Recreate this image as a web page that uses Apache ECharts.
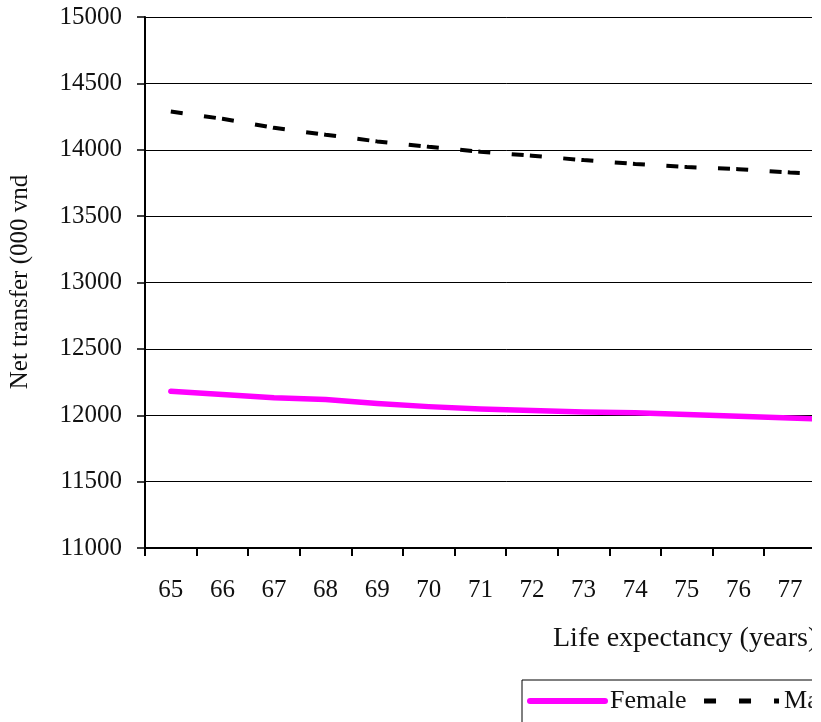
<!DOCTYPE html>
<html>
<head>
<meta charset="utf-8">
<script src="https://cdn.jsdelivr.net/npm/echarts@6/dist/echarts.min.js"></script>
<style>
  html, body { margin: 0; padding: 0; background: #fff; }
  #frame { position: absolute; left: 0; top: 0; width: 812px; height: 722px; overflow: hidden; background: #fff; }
  #chart { position: absolute; left: 0; top: 0; width: 900px; height: 722px; }
</style>
</head>
<body>
<div id="frame"><div id="chart"></div></div>
<script>
// Life expectancy in years (category axis)
const ages = ['65', '66', '67', '68', '69', '70', '71', '72', '73', '74', '75', '76', '77', '78'];
// Net transfer, thousand VND
const female = [12181, 12156, 12131, 12118, 12088, 12065, 12048, 12036, 12024, 12018, 12005, 11992, 11979, 11966];
const male   = [14288, 14233, 14165, 14113, 14063, 14022, 13985, 13955, 13922, 13893, 13870, 13854, 13829, 13812];

const FONT = "'Liberation Serif', 'Times New Roman', serif";
const catWidth = 51.6;

const chart = echarts.init(document.getElementById('chart'), null, { renderer: 'canvas' });

chart.setOption({
  animation: false,
  backgroundColor: '#ffffff',
  grid: { left: 145, top: 17, width: catWidth * ages.length, height: 531, containLabel: false },
  xAxis: {
    type: 'category',
    data: ages,
    boundaryGap: true,
    axisLine: { lineStyle: { color: '#000', width: 2 } },
    axisTick: { show: true, length: 8, inside: false, lineStyle: { color: '#000', width: 2 } },
    axisLabel: { color: '#111', fontFamily: FONT, fontSize: 25, margin: 30, interval: 0 },
    splitLine: { show: false }
  },
  yAxis: {
    type: 'value',
    min: 11000,
    max: 15000,
    interval: 500,
    axisLine: { show: true, lineStyle: { color: '#000', width: 2 } },
    axisTick: { show: true, length: 8, lineStyle: { color: '#000', width: 1.5 } },
    axisLabel: { color: '#111', fontFamily: FONT, fontSize: 25, margin: 23, formatter: v => String(v) },
    splitLine: { show: true, lineStyle: { color: '#000', width: 1 } }
  },
  legend: {
    left: 522,
    top: 680,
    orient: 'horizontal',
    borderColor: '#000',
    borderWidth: 1,
    padding: [8, 5, 24, 5],
    itemWidth: 75,
    itemHeight: 14,
    itemGap: 15,
    itemStyle: { opacity: 0, borderWidth: 0 },
    textStyle: { color: '#111', fontFamily: FONT, fontSize: 26, lineHeight: 24 },
    data: [
      { name: 'Female', lineStyle: { width: 6, cap: 'round' } },
      { name: 'Male', lineStyle: { width: 5, type: [12, 23] } }
    ]
  },
  graphic: [
    {
      type: 'text',
      x: 553,
      y: 639,
      style: { text: 'Life expectancy (years)', font: '28px ' + FONT, fill: '#111', verticalAlign: 'middle' }
    },
    {
      type: 'text',
      x: 20,
      y: 282,
      rotation: Math.PI / 2,
      style: {
        text: 'Net transfer (000 vnd',
        font: '25px ' + FONT,
        fill: '#111',
        align: 'center',
        verticalAlign: 'middle'
      }
    }
  ],
  series: [
    {
      name: 'Female',
      type: 'line',
      data: female,
      symbol: 'none',
      color: '#ff00ff',
      lineStyle: { color: '#ff00ff', width: 5.5, cap: 'round', join: 'round' }
    },
    {
      name: 'Male',
      type: 'line',
      data: male,
      symbol: 'none',
      color: '#000000',
      lineStyle: { color: '#000', width: 4, type: [12, 21.5, 12, 6.2], dashOffset: 0 }
    }
  ]
});
</script>
</body>
</html>
